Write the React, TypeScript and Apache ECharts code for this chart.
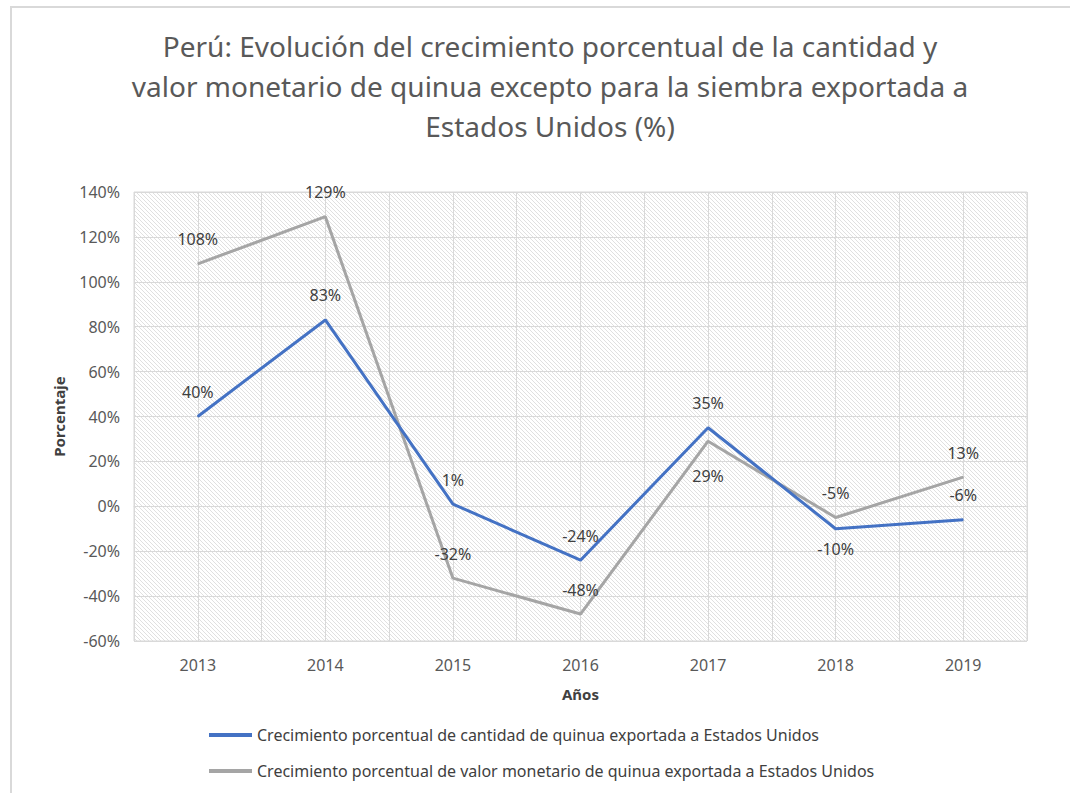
import React, { useEffect, useRef } from "react";
import * as echarts from "echarts";

const years = ["2013", "2014", "2015", "2016", "2017", "2018", "2019"];
const cantidad = [40, 83, 1, -24, 35, -10, -6];
const valor = [108, 129, -32, -48, 29, -5, 13];
const cantidadBelow = [false, false, false, false, false, true, false];
const valorBelow = [false, false, false, false, true, false, false];
const seriesNames = [
  "Crecimiento porcentual de cantidad de quinua exportada a Estados Unidos",
  "Crecimiento porcentual de valor monetario de quinua exportada a Estados Unidos",
];
const titleText =
  "Perú: Evolución del crecimiento porcentual de la cantidad y\nvalor monetario de quinua excepto para la siembra exportada a\nEstados Unidos (%)";

const FONT = "'Noto Sans', sans-serif";

function makeHatch(): HTMLCanvasElement {
  const c = document.createElement("canvas");
  c.width = 8;
  c.height = 8;
  const ctx = c.getContext("2d")!;
  ctx.fillStyle = "#ffffff";
  ctx.fillRect(0, 0, 8, 8);
  ctx.strokeStyle = "#dcdcdc";
  ctx.lineWidth = 0.9;
  for (let k = -3; k <= 3; k++) {
    ctx.beginPath();
    ctx.moveTo(k * 4, 0);
    ctx.lineTo(k * 4 + 8, 8);
    ctx.stroke();
  }
  return c;
}

export default function App() {
  const ref = useRef<HTMLDivElement>(null);
  useEffect(() => {
    document.body.style.margin = "0";
    const chart = echarts.init(ref.current!, undefined, { renderer: "svg" });
    const hatch = makeHatch();
    const mkData = (vals: number[], below: boolean[], far: number = -1) =>
      vals.map((v, i) => ({
        value: v,
        label: {
          position: below[i] ? "bottom" : "top",
          distance: i === far ? 26 : below[i] ? 12 : 16,
        },
      }));
    const labelStyle = {
      show: true,
      formatter: "{c}%",
      color: "#404040",
      fontSize: 16,
      fontFamily: FONT,
    };
    chart.setOption({
      animation: false,
      backgroundColor: "#ffffff",
      textStyle: { fontFamily: FONT },
      title: {
        text: titleText,
        left: 545,
        top: 21,
        textAlign: "center",
        textStyle: {
          fontFamily: FONT,
          fontSize: 28,
          fontWeight: "normal",
          color: "#595959",
          lineHeight: 40,
        },
      },
      graphic: [
        {
          type: "rect",
          shape: { x: 11, y: 7, width: 1200, height: 900 },
          style: { fill: "none", stroke: "#d9d9d9", lineWidth: 2 },
          silent: true,
        },
      ],
      grid: {
        left: 134,
        right: 43,
        top: 192,
        bottom: 152,
        show: true,
        backgroundColor: {
          image: hatch,
          repeat: "repeat",
          imageWidth: 8,
          imageHeight: 8,
        },
        borderColor: "#d9d9d9",
        borderWidth: 1,
      },
      legend: {
        orient: "vertical",
        left: 209,
        top: 724,
        padding: 0,
        itemWidth: 43,
        itemHeight: 4,
        itemGap: 14,
        icon: "rect",
        textStyle: { fontFamily: FONT, fontSize: 16, color: "#404040", lineHeight: 22 },
        data: seriesNames,
      },
      xAxis: [
        {
          type: "category",
          data: years,
          boundaryGap: true,
          axisTick: { show: false },
          axisLine: { lineStyle: { color: "#d9d9d9" } },
          axisLabel: { color: "#595959", fontSize: 16, fontFamily: FONT, margin: 16 },
          splitLine: { show: false },
          name: "Años",
          nameLocation: "middle",
          nameGap: 45,
          nameTextStyle: { fontWeight: "bold", fontSize: 15, color: "#404040", fontFamily: FONT },
        },
        {
          type: "value",
          min: 0,
          max: 14,
          interval: 1,
          position: "bottom",
          axisLine: { show: false },
          axisTick: { show: false },
          axisLabel: { show: false },
          splitLine: { show: true, lineStyle: { color: "#d9d9d9", width: 1 } },
        },
      ],
      yAxis: {
        type: "value",
        min: -60,
        max: 140,
        interval: 20,
        axisLine: { show: false },
        axisTick: { show: false },
        axisLabel: {
          formatter: "{value}%",
          color: "#595959",
          fontSize: 16,
          fontFamily: FONT,
          margin: 14,
        },
        splitLine: { lineStyle: { color: "#d9d9d9", width: 1 } },
        name: "Porcentaje",
        nameLocation: "middle",
        nameGap: 68,
        nameTextStyle: { fontWeight: "bold", fontSize: 15, color: "#404040", fontFamily: FONT },
      },
      series: [
        {
          name: seriesNames[0],
          type: "line",
          xAxisIndex: 0,
          data: mkData(cantidad, cantidadBelow),
          symbol: "circle",
          symbolSize: 1,
          lineStyle: { color: "#4472C4", width: 3 },
          itemStyle: { color: "#4472C4" },
          label: labelStyle,
          z: 3,
        },
        {
          name: seriesNames[1],
          type: "line",
          xAxisIndex: 0,
          data: mkData(valor, valorBelow, 4),
          symbol: "circle",
          symbolSize: 1,
          lineStyle: { color: "#A5A5A5", width: 3 },
          itemStyle: { color: "#A5A5A5" },
          label: labelStyle,
          z: 2,
        },
      ],
    });
    return () => chart.dispose();
  }, []);
  return <div ref={ref} style={{ width: 1070, height: 793 }} />;
}
